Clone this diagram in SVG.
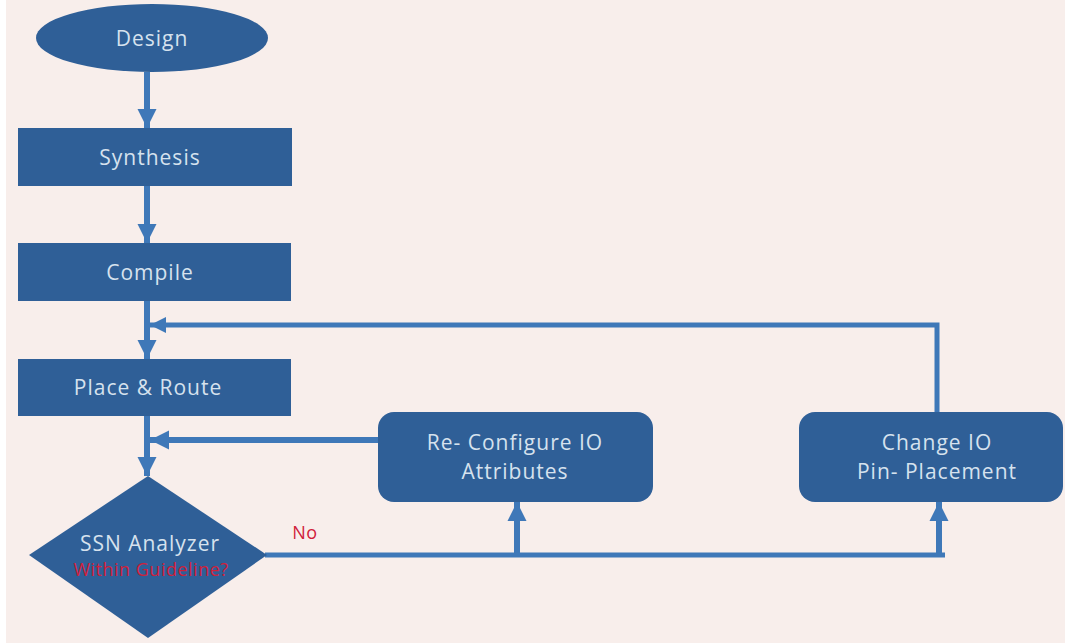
<svg xmlns="http://www.w3.org/2000/svg" width="1065" height="643" viewBox="0 0 1065 643">
<defs>
<style>
.bg{fill:#f8eeeb}
.node{fill:#2f5f97}
.lbl{font-family:"Open Sans","DejaVu Sans",sans-serif;font-size:21px;fill:#d6e2ee;text-anchor:middle;letter-spacing:1px}
.red{font-family:"Open Sans","DejaVu Sans",sans-serif;font-size:18px;fill:#d0203a;text-anchor:middle;letter-spacing:0.5px}
.ln{stroke:#3f78b8;stroke-width:6;fill:none}
.ln2{stroke:#3f78b8;stroke-width:5;fill:none}
</style>
<marker id="ah" viewBox="0 0 10 10" refX="10" refY="5" markerWidth="3.2" markerHeight="3.2" markerUnits="strokeWidth" orient="auto">
<path d="M0,0 L10,5 L0,10 z" fill="#3f78b8"/>
</marker>
</defs>
<rect x="0" y="0" width="1065" height="643" fill="#ffffff"/>
<rect class="bg" x="6" y="0" width="1059" height="643"/>
<g id="connectors">
<path class="ln" d="M147,72 L147,128" marker-end="url(#ah)"/>
<path class="ln" d="M147,186 L147,243" marker-end="url(#ah)"/>
<path class="ln" d="M147,301 L147,359" marker-end="url(#ah)"/>
<path class="ln" d="M147,416 L147,476" marker-end="url(#ah)"/>
<path class="ln2" d="M937,412 L937,325 L150,325" marker-end="url(#ah)"/>
<path class="ln" d="M378,440 L150,440" marker-end="url(#ah)"/>
<path class="ln2" d="M265,555 L945,555"/>
<path class="ln" d="M517,555 L517,502" marker-end="url(#ah)"/>
<path class="ln" d="M939,555 L939,502" marker-end="url(#ah)"/>
</g>
<g id="design">
<ellipse class="node" cx="152" cy="38" rx="116" ry="34"/>
<text class="lbl" x="152" y="46">Design</text>
</g>
<g id="synthesis">
<rect class="node" x="18" y="128" width="274" height="58"/>
<text class="lbl" x="150" y="165">Synthesis</text>
</g>
<g id="compile">
<rect class="node" x="18" y="243" width="273" height="58"/>
<text class="lbl" x="150" y="280">Compile</text>
</g>
<g id="place-route">
<rect class="node" x="18" y="359" width="273" height="57"/>
<text class="lbl" x="148" y="395">Place &amp; Route</text>
</g>
<g id="ssn-analyzer">
<polygon class="node" points="148,476 267,555 148,638 29,555"/>
<text class="lbl" x="150" y="551">SSN  Analyzer</text>
<text class="red" x="151" y="576">Within  Guideline?</text>
</g>
<g id="reconfigure">
<rect class="node" x="378" y="412" width="275" height="90" rx="16"/>
<text class="lbl" x="515" y="450">Re- Configure IO</text>
<text class="lbl" x="515" y="479">Attributes</text>
</g>
<g id="change-io">
<rect class="node" x="799" y="412" width="264" height="90" rx="16"/>
<text class="lbl" x="937" y="450">Change IO</text>
<text class="lbl" x="937" y="479">Pin- Placement</text>
</g>
<text class="red" x="305" y="539">No</text>
</svg>
